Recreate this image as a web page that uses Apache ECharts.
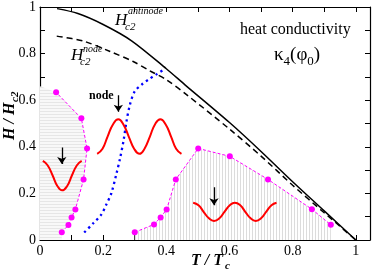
<!DOCTYPE html>
<html><head><meta charset="utf-8">
<script src="https://cdn.jsdelivr.net/npm/echarts@6/dist/echarts.min.js"></script>
<style>html,body{margin:0;padding:0;background:#fff}#c{width:374px;height:273px}</style>
</head><body><div id="c"></div>
<script>
// ---- data ----
const antinodeT = [0.054,0.12,0.20,0.29,0.40,0.46,0.601,0.70,0.80,0.90,1.0];
const antinodeH = [0.993,0.972,0.925,0.855,0.735,0.665,0.503,0.38,0.25,0.125,0.0];
const nodeT = [0.053,0.137,0.222,0.295,0.348,0.40,0.464,0.601,0.70,0.80,0.90,1.0];
const nodeH = [0.875,0.854,0.809,0.766,0.726,0.688,0.624,0.475,0.36,0.235,0.117,0.0];
const blueT = [0.14,0.168,0.194,0.21,0.226,0.243,0.253,0.265,0.274,0.285,0.30,0.322,0.345,0.37,0.39];
const blueH = [0.032,0.071,0.109,0.152,0.201,0.29,0.347,0.43,0.51,0.582,0.638,0.667,0.69,0.712,0.73];
const leftT = [0.069,0.09,0.10,0.112,0.138,0.149,0.131,0.051];
const leftH = [0.033,0.064,0.097,0.131,0.26,0.393,0.522,0.634];
const rightT = [0.30,0.361,0.382,0.401,0.43,0.501,0.601,0.722,0.861,0.921];
const rightH = [0.033,0.067,0.097,0.131,0.26,0.393,0.359,0.26,0.132,0.065];
const wave1T = [0.009,0.024,0.040,0.055,0.070,0.086,0.101,0.117,0.132];
const wave1H = [0.34,0.321,0.277,0.232,0.213,0.232,0.277,0.321,0.34];
const wave2T = [0.181,0.198,0.214,0.231,0.248,0.264,0.281,0.298,0.315,0.331,0.348,0.364,0.381,0.398,0.415,0.431,0.448];
const wave2H = [0.37,0.392,0.444,0.496,0.518,0.496,0.444,0.392,0.37,0.392,0.444,0.496,0.518,0.496,0.444,0.392,0.37];
const wave3T = [0.485,0.502,0.518,0.535,0.551,0.568,0.584,0.601,0.617,0.634,0.650,0.667,0.683,0.700,0.716,0.733,0.749];
const wave3H = [0.16,0.149,0.121,0.093,0.082,0.093,0.121,0.149,0.16,0.149,0.121,0.093,0.082,0.093,0.121,0.149,0.16];
const arrowT = [0.069,0.248,0.551];
const arrowTop = [0.397,0.621,0.226];
const arrowBottom = [0.326,0.55,0.149];
const leftHatchT = [0,0.051,0.131,0.149,0.138,0.112,0.10,0.09,0.069,0.069,0];
const leftHatchH = [0.66,0.634,0.522,0.393,0.26,0.131,0.097,0.064,0.033,0,0];
const rightHatchT = [0.30,0.361,0.382,0.401,0.43,0.501,0.601,0.722,0.861,0.921,0.921,0.30];
const rightHatchH = [0.033,0.067,0.097,0.131,0.26,0.393,0.359,0.26,0.132,0.065,0,0];
const xTicks = ['0','0.2','0.4','0.6','0.8','1'];
const yTicks = ['0','0.2','0.4','0.6','0.8','1'];

const zip = (a,b) => a.map((v,i)=>[v,b[i]]);

function makePattern(horizontal){
  const c = document.createElement('canvas');
  c.width = 3; c.height = 3;
  const g = c.getContext('2d');
  g.fillStyle = horizontal ? '#f8f8f8' : '#ffffff';
  g.fillRect(0,0,3,3);
  g.fillStyle = horizontal ? '#e6e6e6' : '#dcdcdc';
  if (horizontal) g.fillRect(0,0,3,1); else g.fillRect(0,0,1,3);
  return {image:c, repeat:'repeat'};
}
const patH = makePattern(true), patV = makePattern(false);

function polySeries(pts, pat){
  return {
    type:'custom', xAxisIndex:0, yAxisIndex:0, z:1, silent:true,
    data:[0],
    renderItem:(params, api)=>({
      type:'polygon',
      shape:{points: pts.map(p=>api.coord(p))},
      style:{fill: pat, stroke:null}
    })
  };
}

const serif = 'Liberation Serif';
function fmt(list){ return v => { const r = Math.round(v*10); if (r%2!==0 || v>1.0001) return ''; return list[r/2]; }; }

const axisCommon = {
  type:'value', min:0, interval:0.1,
  axisLine:{show:true, onZero:false, lineStyle:{color:'#000', width:1.2}},
  axisTick:{show:true, inside:true, length:5, lineStyle:{color:'#000', width:1}},
  splitLine:{show:false}
};

const chart = echarts.init(document.getElementById('c'), null, {renderer:'canvas'});
chart.setOption({
  animation:false,
  backgroundColor:'#fff',
  grid:{left:40, top:5, right:4, bottom:33, containLabel:false},
  xAxis:[
    Object.assign({}, axisCommon, {position:'bottom', max:1.045,
      axisLabel:{show:true, formatter:fmt(xTicks), color:'#000', fontFamily:serif, fontSize:14, margin:4, showMaxLabel:false}}),
    Object.assign({}, axisCommon, {position:'top', max:1.045, axisLabel:{show:false}})
  ],
  yAxis:[
    Object.assign({}, axisCommon, {position:'left', max:1,
      axisLabel:{show:true, formatter:fmt(yTicks), color:'#000', fontFamily:serif, fontSize:14, margin:4}}),
    Object.assign({}, axisCommon, {position:'right', max:1, axisLabel:{show:false}})
  ],
  series:[
    polySeries(zip(leftHatchT,leftHatchH), patH),
    polySeries(zip(rightHatchT,rightHatchH), patV),
    {type:'line', data:zip(antinodeT,antinodeH), smooth:0.3, symbol:'none', z:3,
     lineStyle:{color:'#000', width:1.5}},
    {type:'line', data:zip(nodeT,nodeH), smooth:0.3, symbol:'none', z:3,
     lineStyle:{color:'#000', width:1.5, type:[6,4]}},
    {type:'line', data:zip(blueT,blueH), smooth:0.3, symbol:'none', z:3,
     lineStyle:{color:'#0000ff', width:2.3, type:[2.3,3.5], cap:'butt'}},
    {type:'line', data:zip(leftT,leftH), symbol:'circle', symbolSize:6, z:4,
     itemStyle:{color:'#ff00ff'}, lineStyle:{color:'#ff00ff', width:1, type:[3,2]}},
    {type:'line', data:zip(rightT,rightH), symbol:'circle', symbolSize:6, z:4,
     itemStyle:{color:'#ff00ff'}, lineStyle:{color:'#ff00ff', width:1, type:[3,2]}},
    {type:'line', data:zip(wave1T,wave1H), smooth:true, symbol:'none', z:4, lineStyle:{color:'#ff0000', width:2}},
    {type:'line', data:zip(wave2T,wave2H), smooth:true, symbol:'none', z:4, lineStyle:{color:'#ff0000', width:2}},
    {type:'line', data:zip(wave3T,wave3H), smooth:true, symbol:'none', z:4, lineStyle:{color:'#ff0000', width:2}},
    {type:'lines', coordinateSystem:'cartesian2d', z:5, silent:true,
     symbol:['none','arrow'], symbolSize:7,
     lineStyle:{color:'#000', width:1.3, opacity:1},
     data: arrowT.map((t,i)=>({coords:[[t,arrowTop[i]],[t,arrowBottom[i]]]}))}
  ],
  graphic:[
    {type:'text', left:240, top:22, style:{text:'heat conductivity', font:'16px "Liberation Serif"', fill:'#000'}},
    {type:'text', left:274, top:46, style:{text:'{a|κ}{s|4}{a|(φ}{s|0}{a|)}', fill:'#000',
      rich:{a:{font:'19px "Liberation Serif"', lineHeight:22, verticalAlign:'top'}, s:{font:'13px "Liberation Serif"', verticalAlign:'bottom', lineHeight:22, padding:[8,0,0,0]}}}},
    {type:'text', left:115, top:12, style:{text:'H', font:'italic 17px "Liberation Serif"', fill:'#000'}},
    {type:'text', left:128, top:6, style:{text:'antinode', font:'italic 10px "Liberation Serif"', fill:'#000'}},
    {type:'text', left:125, top:22, style:{text:'c2', font:'italic 11px "Liberation Serif"', fill:'#000'}},
    {type:'text', left:71, top:47, style:{text:'H', font:'italic 17px "Liberation Serif"', fill:'#000'}},
    {type:'text', left:83, top:44, style:{text:'node', font:'italic 10px "Liberation Serif"', fill:'#000'}},
    {type:'text', left:80, top:57, style:{text:'c2', font:'italic 11px "Liberation Serif"', fill:'#000'}},
    {type:'text', left:89, top:90, style:{text:'node', font:'bold 12px "Liberation Serif"', fill:'#000'}},
    {type:'group', left:191, top:253, children:[
      {type:'text', x:0, y:0, style:{text:'T / T', font:'italic bold 16px "Liberation Serif"', fill:'#000'}},
      {type:'text', x:34, y:8, style:{text:'c', font:'italic bold 11px "Liberation Serif"', fill:'#000'}}
    ]},
    {type:'group', x:2, y:140, rotation:Math.PI/2, children:[
      {type:'text', x:0, y:0, style:{text:'H / H', font:'italic bold 16px "Liberation Serif"', fill:'#000'}},
      {type:'text', x:38, y:8, style:{text:'c2', font:'italic bold 11px "Liberation Serif"', fill:'#000'}}
    ]}
  ]
});
</script></body></html>
